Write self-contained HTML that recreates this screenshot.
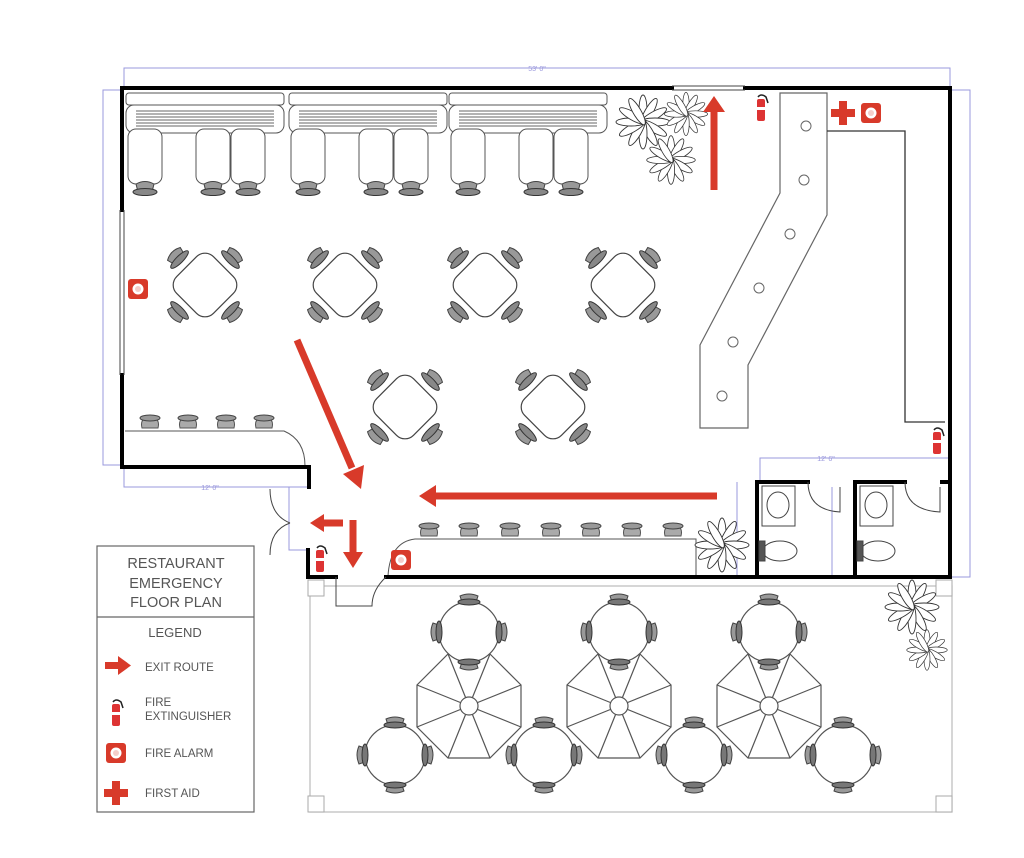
<!DOCTYPE html>
<html><head><meta charset="utf-8"><style>
html,body{margin:0;padding:0;background:#fff}
svg{display:block}
text{font-family:"Liberation Sans",sans-serif;fill:#555}
</style></head><body>
<svg width="1024" height="858" viewBox="0 0 1024 858" xmlns="http://www.w3.org/2000/svg">
<defs>
<g id="chair"><path d="M-9,-4 Q0,-9 9,-4 L7,4 L-7,4 Z" fill="#999" stroke="#444" stroke-width="1"/><ellipse cx="0" cy="4" rx="12" ry="3.5" fill="#888" stroke="#333" stroke-width="1"/></g>
<g id="pchair"><path d="M-9,-3 Q0,-7 9,-3 L7,3 L-7,3 Z" fill="#999" stroke="#444" stroke-width="1"/><ellipse cx="0" cy="3" rx="11" ry="3" fill="#777" stroke="#333" stroke-width="1"/></g>
<g id="stool"><path d="M-8,6 Q-10,-2 -4,-4 L4,-4 Q10,-2 8,6 Z" fill="#aaa" stroke="#555" stroke-width="1"/><ellipse cx="0" cy="-4" rx="10" ry="3" fill="#999" stroke="#444"/></g>
<g id="dtable"><rect x="-26" y="-26" width="52" height="52" rx="12" transform="rotate(45)" fill="#fff" stroke="#444" stroke-width="1.2"/>
<use href="#chair" transform="rotate(-45) translate(0,-40)"/><use href="#chair" transform="rotate(45) translate(0,-40)"/><use href="#chair" transform="rotate(135) translate(0,-40)"/><use href="#chair" transform="rotate(225) translate(0,-40)"/></g>
<g id="rtable"><circle r="30" fill="#fff" stroke="#555" stroke-width="1.2"/>
<use href="#pchair" transform="translate(0,-33)"/><use href="#pchair" transform="rotate(90) translate(0,-33)"/><use href="#pchair" transform="rotate(180) translate(0,-33)"/><use href="#pchair" transform="rotate(270) translate(0,-33)"/></g>
<g id="umb" fill="none" stroke="#555" stroke-width="1.2"><polygon points="21,-52 52,-21 52,21 21,52 -21,52 -52,21 -52,-21 -21,-52" fill="#fff"/>
<path d="M21,-52L0,0M52,-21L0,0M52,21L0,0M21,52L0,0M-21,52L0,0M-52,21L0,0M-52,-21L0,0M-21,-52L0,0"/><circle r="9" fill="#fff"/></g>
<g id="plant" fill="#fff" stroke="#333" stroke-width="0.9">
<ellipse rx="4" ry="15" transform="rotate(0) translate(0,-12)"/><ellipse rx="4" ry="15" transform="rotate(30) translate(0,-12)"/><ellipse rx="4" ry="15" transform="rotate(60) translate(0,-12)"/><ellipse rx="4" ry="15" transform="rotate(90) translate(0,-12)"/><ellipse rx="4" ry="15" transform="rotate(120) translate(0,-12)"/><ellipse rx="4" ry="15" transform="rotate(150) translate(0,-12)"/><ellipse rx="4" ry="15" transform="rotate(180) translate(0,-12)"/><ellipse rx="4" ry="15" transform="rotate(210) translate(0,-12)"/><ellipse rx="4" ry="15" transform="rotate(240) translate(0,-12)"/><ellipse rx="4" ry="15" transform="rotate(270) translate(0,-12)"/><ellipse rx="4" ry="15" transform="rotate(300) translate(0,-12)"/><ellipse rx="4" ry="15" transform="rotate(330) translate(0,-12)"/></g>
<g id="ext"><path d="M-3,-10 Q0,-14 5,-10 L7,-4" fill="none" stroke="#222" stroke-width="1.5"/><rect x="-4" y="-8" width="8" height="22" rx="2" fill="#d33"/><rect x="-4" y="0" width="8" height="3" fill="#fff"/></g>
<g id="alarm"><rect x="-10" y="-10" width="20" height="20" rx="3" fill="#d83a2a"/><circle r="5.5" fill="#fff"/><circle r="3" fill="#d83a2a" opacity=".25"/></g>
<g id="aid"><path d="M-4,-12H4V-4H12V4H4V12H-4V4H-12V-4H-4Z" fill="#d83a2a"/></g>
<g id="booth" fill="#fff" stroke="#555" stroke-width="1">
<rect x="0" y="0" width="158" height="12" rx="3"/><rect x="0" y="12" width="158" height="28" rx="8"/>
<path d="M10,18H148M10,21H148M10,24H148M10,27H148M10,30H148M10,33H148" stroke="#666"/>
<rect x="2" y="36" width="34" height="55" rx="8"/><rect x="70" y="36" width="34" height="55" rx="8"/><rect x="105" y="36" width="34" height="55" rx="8"/>
<use href="#chair" transform="translate(19,95)"/><use href="#chair" transform="translate(87,95)"/><use href="#chair" transform="translate(122,95)"/></g>
</defs>

<g stroke="#9a98dd" stroke-width="1" fill="none">
<path d="M124,88V68H950V88"/><path d="M121,90H103V465H121"/><path d="M950,90H970V577H950"/>
<path d="M124,467V487H310"/><path d="M289,487V550H307"/><path d="M760,482V458H950"/><path d="M737,482V577"/><path d="M832,487V577"/><path d="M310,586H952"/>
</g>
<g font-size="7" text-anchor="middle"><text x="537" y="71" style="fill:#9a98dd">53' 0"</text><text x="210" y="490" style="fill:#9a98dd">12' 0"</text><text x="826" y="461" style="fill:#9a98dd">12' 6"</text></g>

<rect x="310" y="586" width="642" height="226" fill="none" stroke="#bbb" stroke-width="1.2"/>
<g fill="#fff" stroke="#aaa"><rect x="308" y="580" width="16" height="16"/><rect x="936" y="580" width="16" height="16"/><rect x="308" y="796" width="16" height="16"/><rect x="936" y="796" width="16" height="16"/></g>

<use href="#booth" transform="translate(126,93)"/><use href="#booth" transform="translate(289,93)"/><use href="#booth" transform="translate(449,93)"/>

<use href="#dtable" transform="translate(205,285)"/><use href="#dtable" transform="translate(345,285)"/><use href="#dtable" transform="translate(485,285)"/><use href="#dtable" transform="translate(623,285)"/>
<use href="#dtable" transform="translate(405,407)"/><use href="#dtable" transform="translate(553,407)"/>

<path d="M125,431H284Q305,440 305,466" fill="none" stroke="#555" stroke-width="1"/>
<use href="#stool" transform="translate(150,422)"/><use href="#stool" transform="translate(188,422)"/><use href="#stool" transform="translate(226,422)"/><use href="#stool" transform="translate(264,422)"/>

<path d="M388,576Q390,542 415,539H696V575" fill="none" stroke="#555" stroke-width="1"/>
<use href="#stool" transform="translate(429,530)"/><use href="#stool" transform="translate(469,530)"/><use href="#stool" transform="translate(510,530)"/><use href="#stool" transform="translate(551,530)"/><use href="#stool" transform="translate(591,530)"/><use href="#stool" transform="translate(632,530)"/><use href="#stool" transform="translate(673,530)"/>

<polygon points="780,93 827,93 827,215 748,365 748,428 700,428 700,345 780,193" fill="#fff" stroke="#666" stroke-width="1.2"/>
<g fill="#fff" stroke="#666"><circle cx="806" cy="126" r="5"/><circle cx="804" cy="180" r="5"/><circle cx="790" cy="234" r="5"/><circle cx="759" cy="288" r="5"/><circle cx="733" cy="342" r="5"/><circle cx="722" cy="396" r="5"/></g>
<path d="M827,131H905V422H945" fill="none" stroke="#333" stroke-width="1.3"/>

<g stroke="#000" stroke-width="4" fill="none" stroke-linecap="square">
<path d="M672,88H122V210"/><path d="M745,88H950V577H757V482H808"/><path d="M855,577V482H905"/><path d="M942,482H950"/>
<path d="M757,577H386"/><path d="M122,375V467H309V487"/><path d="M308,550V577H336"/>
</g>
<g stroke="#444" stroke-width="1" fill="none"><path d="M120,210V375M124,210V375"/><path d="M672,86H745M672,90H745"/></g>
<g stroke="#444" stroke-width="1" fill="none">
<path d="M270,489Q270,515 290,523"/><path d="M270,555Q270,530 290,523"/>
<path d="M336,577V606H372Q372,590 386,577"/>
<path d="M808,482Q808,510 840,512V487"/><path d="M905,482Q905,510 940,512V487"/>
</g>
<g stroke="#444" fill="#fff" stroke-width="1"><rect x="762" y="486" width="33" height="40"/><ellipse cx="778" cy="505" rx="11" ry="13"/><ellipse cx="780" cy="551" rx="17" ry="10"/><rect x="759" y="541" width="6" height="20" fill="#555"/>
<rect x="860" y="486" width="33" height="40"/><ellipse cx="876" cy="505" rx="11" ry="13"/><ellipse cx="878" cy="551" rx="17" ry="10"/><rect x="857" y="541" width="6" height="20" fill="#555"/></g>

<use href="#plant" transform="translate(643,122)"/><use href="#plant" transform="translate(686,114) scale(0.8)"/><use href="#plant" transform="translate(671,160) scale(0.9)"/>
<use href="#plant" transform="translate(722,545)"/><use href="#plant" transform="translate(912,607)"/><use href="#plant" transform="translate(927,650) scale(0.75)"/>

<use href="#umb" transform="translate(469,706)"/><use href="#umb" transform="translate(619,706)"/><use href="#umb" transform="translate(769,706)"/>
<use href="#rtable" transform="translate(469,632)"/><use href="#rtable" transform="translate(619,632)"/><use href="#rtable" transform="translate(769,632)"/>
<use href="#rtable" transform="translate(395,755)"/><use href="#rtable" transform="translate(544,755)"/><use href="#rtable" transform="translate(694,755)"/><use href="#rtable" transform="translate(843,755)"/>

<use href="#alarm" transform="translate(138,289)"/><use href="#alarm" transform="translate(401,560)"/><use href="#alarm" transform="translate(871,113)"/>
<use href="#aid" transform="translate(843,113)"/>
<use href="#ext" transform="translate(761,107)"/><use href="#ext" transform="translate(937,440)"/><use href="#ext" transform="translate(320,558)"/>

<g fill="#d83a2a" stroke="#d83a2a">
<line x1="297" y1="340" x2="352" y2="468" stroke-width="7"/><polygon points="343,474 364,465 361,489" stroke="none"/>
<line x1="717" y1="496" x2="436" y2="496" stroke-width="7"/><polygon points="436,485 436,507 419,496" stroke="none"/>
<line x1="714" y1="190" x2="714" y2="112" stroke-width="7"/><polygon points="703,112 725,112 714,96" stroke="none"/>
<line x1="343" y1="523" x2="323" y2="523" stroke-width="7"/><polygon points="324,514 324,532 310,523" stroke="none"/>
<line x1="353" y1="520" x2="353" y2="553" stroke-width="7"/><polygon points="343,552 363,552 353,568" stroke="none"/>
</g>

<rect x="97" y="546" width="157" height="266" fill="#fff" stroke="#666" stroke-width="1.2"/>
<line x1="97" y1="617" x2="254" y2="617" stroke="#666" stroke-width="1.2"/>
<g font-size="14.5" text-anchor="middle"><text x="176" y="568">RESTAURANT</text><text x="176" y="588">EMERGENCY</text><text x="176" y="607">FLOOR PLAN</text></g>
<text x="175" y="637" font-size="13" text-anchor="middle">LEGEND</text>
<g font-size="11.5"><text x="145" y="671">EXIT ROUTE</text><text x="145" y="706">FIRE</text><text x="145" y="720">EXTINGUISHER</text><text x="145" y="757">FIRE ALARM</text><text x="145" y="797">FIRST AID</text></g>
<g fill="#d83a2a"><rect x="105" y="662" width="14" height="7"/><polygon points="118,656 131,665.5 118,675"/></g>
<use href="#ext" transform="translate(116,712)"/>
<use href="#alarm" transform="translate(116,753)"/>
<use href="#aid" transform="translate(116,793)"/>
</svg>
</body></html>
